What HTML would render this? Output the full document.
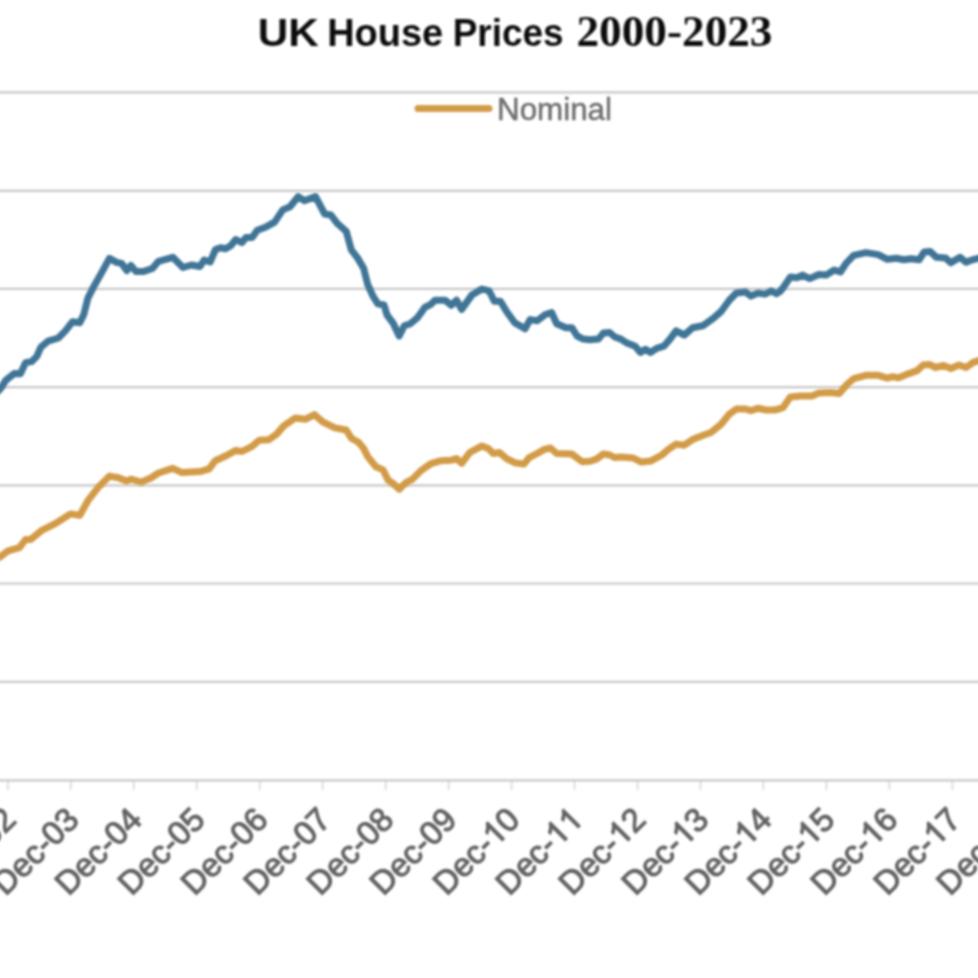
<!DOCTYPE html>
<html lang="en"><head><meta charset="utf-8"><title>UK House Prices 2000-2023</title>
<style>html,body{margin:0;padding:0;background:#fff;}body{width:978px;height:978px;overflow:hidden;font-family:"Liberation Sans",sans-serif;}svg{display:block;}text{font-family:"Liberation Sans",sans-serif;}</style></head><body>
<svg width="978" height="978" viewBox="0 0 978 978">
<rect width="978" height="978" fill="#ffffff"/>
<g stroke="#c8c8c8" stroke-width="2.2" filter="url(#soft)">
<line x1="-12" y1="92.3" x2="990" y2="92.3"/>
<line x1="-12" y1="190.8" x2="990" y2="190.8"/>
<line x1="-12" y1="288.9" x2="990" y2="288.9"/>
<line x1="-12" y1="387.2" x2="990" y2="387.2"/>
<line x1="-12" y1="485.4" x2="990" y2="485.4"/>
<line x1="-12" y1="583.5" x2="990" y2="583.5"/>
<line x1="-12" y1="681.8" x2="990" y2="681.8"/>
<line x1="-12" y1="780.4" x2="990" y2="780.4"/>
<line x1="7.8" y1="780.4" x2="7.8" y2="789.9" stroke-width="1.5" stroke-opacity="0.8"/>
<line x1="70.8" y1="780.4" x2="70.8" y2="789.9" stroke-width="1.5" stroke-opacity="0.8"/>
<line x1="133.7" y1="780.4" x2="133.7" y2="789.9" stroke-width="1.5" stroke-opacity="0.8"/>
<line x1="196.7" y1="780.4" x2="196.7" y2="789.9" stroke-width="1.5" stroke-opacity="0.8"/>
<line x1="259.7" y1="780.4" x2="259.7" y2="789.9" stroke-width="1.5" stroke-opacity="0.8"/>
<line x1="322.6" y1="780.4" x2="322.6" y2="789.9" stroke-width="1.5" stroke-opacity="0.8"/>
<line x1="385.6" y1="780.4" x2="385.6" y2="789.9" stroke-width="1.5" stroke-opacity="0.8"/>
<line x1="448.6" y1="780.4" x2="448.6" y2="789.9" stroke-width="1.5" stroke-opacity="0.8"/>
<line x1="511.6" y1="780.4" x2="511.6" y2="789.9" stroke-width="1.5" stroke-opacity="0.8"/>
<line x1="574.5" y1="780.4" x2="574.5" y2="789.9" stroke-width="1.5" stroke-opacity="0.8"/>
<line x1="637.5" y1="780.4" x2="637.5" y2="789.9" stroke-width="1.5" stroke-opacity="0.8"/>
<line x1="700.5" y1="780.4" x2="700.5" y2="789.9" stroke-width="1.5" stroke-opacity="0.8"/>
<line x1="763.4" y1="780.4" x2="763.4" y2="789.9" stroke-width="1.5" stroke-opacity="0.8"/>
<line x1="826.4" y1="780.4" x2="826.4" y2="789.9" stroke-width="1.5" stroke-opacity="0.8"/>
<line x1="889.4" y1="780.4" x2="889.4" y2="789.9" stroke-width="1.5" stroke-opacity="0.8"/>
<line x1="952.4" y1="780.4" x2="952.4" y2="789.9" stroke-width="1.5" stroke-opacity="0.8"/>
<line x1="1015.3" y1="780.4" x2="1015.3" y2="789.9" stroke-width="1.5" stroke-opacity="0.8"/>
<line x1="1078.3" y1="780.4" x2="1078.3" y2="789.9" stroke-width="1.5" stroke-opacity="0.8"/>
</g>
<defs><filter id="soft" x="-5%" y="-5%" width="110%" height="110%"><feGaussianBlur stdDeviation="0.8"/></filter><filter id="soft2" x="-5%" y="-5%" width="110%" height="110%"><feGaussianBlur stdDeviation="0.9"/></filter></defs>
<g fill="none" stroke-linejoin="round" stroke-linecap="round" stroke-width="7" filter="url(#soft)">
<polyline stroke="#d29b47" points="-12.0,563.0 -4.0,559.0 0.0,556.9 8.2,550.8 19.4,547.7 25.6,539.5 30.7,539.5 41.9,530.3 54.2,524.2 70.6,513.9 79.8,515.4 87.9,500.7 98.2,487.4 109.4,476.1 118.6,477.7 126.8,481.2 130.9,479.2 141.1,482.2 151.3,477.7 158.5,473.0 172.8,468.3 182.0,472.6 200.0,471.6 209.2,468.8 215.3,460.7 226.6,455.5 235.8,450.4 241.9,451.5 252.1,446.3 259.3,440.2 268.5,439.8 276.7,434.1 283.8,425.9 295.1,418.1 305.3,419.3 314.5,414.6 322.7,421.8 335.0,427.9 346.2,430.0 351.3,438.2 358.5,442.2 363.6,448.4 367.7,456.6 375.9,466.8 383.0,469.9 388.1,480.1 393.1,483.5 399.2,489.3 405.3,483.1 412.5,479.1 420.7,470.9 430.9,463.7 441.1,460.7 451.3,460.2 456.5,458.6 461.6,463.3 469.8,452.5 482.0,445.9 488.2,448.4 493.3,453.5 499.4,452.5 506.6,458.6 514.7,462.7 523.9,464.1 529.1,457.6 537.2,453.5 544.4,449.4 550.5,448.0 556.7,453.5 572.0,454.1 582.2,461.7 590.0,461.3 596.4,459.1 603.5,453.9 609.7,455.0 614.8,457.6 620.9,457.0 633.2,458.0 641.3,462.1 650.6,461.1 661.8,455.0 669.0,448.8 676.1,444.1 684.3,445.2 692.5,439.6 700.7,436.2 710.9,432.5 721.1,424.3 729.3,414.1 736.4,409.0 745.6,409.0 750.8,410.6 757.9,408.3 766.1,410.0 774.3,410.0 779.0,409.0 783.1,407.4 790.3,397.1 800.5,396.1 811.7,396.1 818.9,393.0 831.2,392.6 839.3,393.5 846.5,384.9 853.7,378.7 865.9,375.3 878.2,375.3 887.4,378.1 892.5,376.7 898.7,377.7 908.9,373.6 917.1,370.6 923.2,365.0 929.3,364.4 935.5,367.5 943.6,365.4 950.8,368.5 959.0,365.0 966.1,367.5 973.3,362.4 978.0,360.9 984.0,359.0 992.0,357.0"/>
<polyline stroke="#3f7596" points="-12.0,401.0 -4.0,393.0 0.0,389.2 6.1,380.0 14.3,373.4 20.4,373.8 25.6,362.6 31.7,361.6 36.8,356.4 40.9,347.2 48.1,341.1 58.3,338.0 65.4,330.9 72.6,321.7 79.8,322.7 83.8,314.5 87.9,298.2 94.1,285.9 102.2,271.6 109.4,258.3 116.6,262.4 121.7,263.4 126.8,270.6 130.9,265.4 136.0,271.6 143.1,271.6 152.4,268.5 158.5,261.3 172.8,257.3 183.0,267.5 191.2,265.0 200.0,266.5 204.1,260.0 210.2,262.0 215.3,249.8 220.4,247.7 225.6,248.7 230.7,245.7 235.8,239.5 241.9,242.6 246.0,237.5 252.1,237.5 257.3,230.3 265.4,227.3 274.6,222.1 282.8,209.9 290.0,206.8 298.2,196.6 304.3,200.7 315.5,196.6 324.7,214.0 330.9,215.0 337.0,223.2 346.2,231.3 351.3,249.8 357.5,257.9 363.6,268.2 367.7,284.5 372.8,295.8 377.9,303.9 384.0,305.0 387.1,315.2 393.3,323.4 399.2,336.0 404.3,325.8 410.4,323.7 417.6,317.6 424.8,307.4 430.9,304.3 435.0,300.2 445.2,300.2 451.3,305.3 456.5,300.2 461.6,309.4 471.8,295.1 482.0,289.0 489.2,291.0 494.3,301.2 500.4,301.2 506.6,311.5 514.7,322.7 525.0,328.8 530.1,319.6 537.2,320.7 545.4,314.5 551.6,312.5 556.7,323.7 565.9,327.8 572.0,327.8 577.1,336.0 583.3,339.1 590.0,339.7 598.4,339.1 603.5,332.9 609.7,332.5 614.8,337.0 620.9,339.1 627.0,343.1 635.2,346.2 640.3,352.4 645.4,349.3 650.6,352.4 656.7,348.3 663.8,346.2 670.0,339.1 676.1,330.9 684.3,335.0 692.5,327.8 702.7,325.8 712.9,318.6 721.1,311.5 729.3,300.2 736.4,293.0 745.6,292.0 750.8,296.1 757.9,293.0 765.1,294.1 771.2,291.0 776.3,293.7 780.0,291.5 784.1,286.3 790.3,277.1 797.4,277.7 802.5,275.1 809.7,278.6 818.9,274.5 826.1,275.1 834.2,270.0 840.4,272.0 846.5,262.8 853.7,255.3 865.9,252.6 878.2,254.6 887.4,259.3 896.6,258.3 903.8,259.8 910.9,258.7 919.1,259.8 924.2,252.0 930.3,251.6 936.5,257.3 945.7,258.1 950.8,262.8 960.0,257.3 966.1,262.2 972.3,259.8 978.0,258.3 984.0,257.0 992.0,256.0"/>
<line stroke="#d29b47" x1="418" y1="108.6" x2="489" y2="108.6"/>
</g>
<text x="497" y="119.5" font-size="31" fill="#6e6e6e" stroke="#6e6e6e" stroke-width="0.5" textLength="115" lengthAdjust="spacingAndGlyphs" filter="url(#soft)">Nominal</text>
<g font-weight="bold" fill="#111111" filter="url(#soft)">
<text x="257.8" y="45.9" font-size="39.5" style="font-family:&quot;Liberation Sans&quot;,serif" textLength="61" lengthAdjust="spacingAndGlyphs">UK</text>
<text x="327.2" y="45.9" font-size="39.5" style="font-family:&quot;Liberation Sans&quot;,serif" textLength="116" lengthAdjust="spacingAndGlyphs">House</text>
<text x="452.7" y="45.9" font-size="39.5" style="font-family:&quot;Liberation Sans&quot;,serif" textLength="111" lengthAdjust="spacingAndGlyphs">Prices</text>
<text x="576.5" y="45.9" font-size="45" style="font-family:&quot;Liberation Serif&quot;,serif" textLength="196" lengthAdjust="spacingAndGlyphs">2000-2023</text>
</g>
<g font-size="33" fill="#636363" text-anchor="end" stroke="#636363" stroke-width="1.1" filter="url(#soft2)" letter-spacing="0.0">
<g transform="translate(17.8,821.5) rotate(-45)"><text x="0" y="0">Dec-02</text></g>
<g transform="translate(80.8,821.5) rotate(-45)"><text x="0" y="0">Dec-03</text></g>
<g transform="translate(143.7,821.5) rotate(-45)"><text x="0" y="0">Dec-04</text></g>
<g transform="translate(206.7,821.5) rotate(-45)"><text x="0" y="0">Dec-05</text></g>
<g transform="translate(269.7,821.5) rotate(-45)"><text x="0" y="0">Dec-06</text></g>
<g transform="translate(332.6,821.5) rotate(-45)"><text x="0" y="0">Dec-07</text></g>
<g transform="translate(395.6,821.5) rotate(-45)"><text x="0" y="0">Dec-08</text></g>
<g transform="translate(458.6,821.5) rotate(-45)"><text x="0" y="0">Dec-09</text></g>
<g transform="translate(521.6,821.5) rotate(-45)"><text x="-36.70" y="0">Dec-</text><path transform="translate(-36.70,0) scale(0.01611,-0.01611)" d="M763 0H583V1147Q518 1085 412.5 1023Q307 961 223 930V1104Q374 1175 487 1276Q600 1377 647 1472H763Z" stroke-width="68" stroke-linejoin="round"/><text x="0" y="0">0</text></g>
<g transform="translate(584.5,821.5) rotate(-45)"><text x="-36.70" y="0">Dec-</text><path transform="translate(-36.70,0) scale(0.01611,-0.01611)" d="M763 0H583V1147Q518 1085 412.5 1023Q307 961 223 930V1104Q374 1175 487 1276Q600 1377 647 1472H763Z" stroke-width="68" stroke-linejoin="round"/><path transform="translate(-18.35,0) scale(0.01611,-0.01611)" d="M763 0H583V1147Q518 1085 412.5 1023Q307 961 223 930V1104Q374 1175 487 1276Q600 1377 647 1472H763Z" stroke-width="68" stroke-linejoin="round"/></g>
<g transform="translate(647.5,821.5) rotate(-45)"><text x="-36.70" y="0">Dec-</text><path transform="translate(-36.70,0) scale(0.01611,-0.01611)" d="M763 0H583V1147Q518 1085 412.5 1023Q307 961 223 930V1104Q374 1175 487 1276Q600 1377 647 1472H763Z" stroke-width="68" stroke-linejoin="round"/><text x="0" y="0">2</text></g>
<g transform="translate(710.5,821.5) rotate(-45)"><text x="-36.70" y="0">Dec-</text><path transform="translate(-36.70,0) scale(0.01611,-0.01611)" d="M763 0H583V1147Q518 1085 412.5 1023Q307 961 223 930V1104Q374 1175 487 1276Q600 1377 647 1472H763Z" stroke-width="68" stroke-linejoin="round"/><text x="0" y="0">3</text></g>
<g transform="translate(773.4,821.5) rotate(-45)"><text x="-36.70" y="0">Dec-</text><path transform="translate(-36.70,0) scale(0.01611,-0.01611)" d="M763 0H583V1147Q518 1085 412.5 1023Q307 961 223 930V1104Q374 1175 487 1276Q600 1377 647 1472H763Z" stroke-width="68" stroke-linejoin="round"/><text x="0" y="0">4</text></g>
<g transform="translate(836.4,821.5) rotate(-45)"><text x="-36.70" y="0">Dec-</text><path transform="translate(-36.70,0) scale(0.01611,-0.01611)" d="M763 0H583V1147Q518 1085 412.5 1023Q307 961 223 930V1104Q374 1175 487 1276Q600 1377 647 1472H763Z" stroke-width="68" stroke-linejoin="round"/><text x="0" y="0">5</text></g>
<g transform="translate(899.4,821.5) rotate(-45)"><text x="-36.70" y="0">Dec-</text><path transform="translate(-36.70,0) scale(0.01611,-0.01611)" d="M763 0H583V1147Q518 1085 412.5 1023Q307 961 223 930V1104Q374 1175 487 1276Q600 1377 647 1472H763Z" stroke-width="68" stroke-linejoin="round"/><text x="0" y="0">6</text></g>
<g transform="translate(962.4,821.5) rotate(-45)"><text x="-36.70" y="0">Dec-</text><path transform="translate(-36.70,0) scale(0.01611,-0.01611)" d="M763 0H583V1147Q518 1085 412.5 1023Q307 961 223 930V1104Q374 1175 487 1276Q600 1377 647 1472H763Z" stroke-width="68" stroke-linejoin="round"/><text x="0" y="0">7</text></g>
<g transform="translate(1025.3,821.5) rotate(-45)"><text x="-36.70" y="0">Dec-</text><path transform="translate(-36.70,0) scale(0.01611,-0.01611)" d="M763 0H583V1147Q518 1085 412.5 1023Q307 961 223 930V1104Q374 1175 487 1276Q600 1377 647 1472H763Z" stroke-width="68" stroke-linejoin="round"/><text x="0" y="0">8</text></g>
<g transform="translate(1088.3,821.5) rotate(-45)"><text x="-36.70" y="0">Dec-</text><path transform="translate(-36.70,0) scale(0.01611,-0.01611)" d="M763 0H583V1147Q518 1085 412.5 1023Q307 961 223 930V1104Q374 1175 487 1276Q600 1377 647 1472H763Z" stroke-width="68" stroke-linejoin="round"/><text x="0" y="0">9</text></g>
</g>
</svg></body></html>
